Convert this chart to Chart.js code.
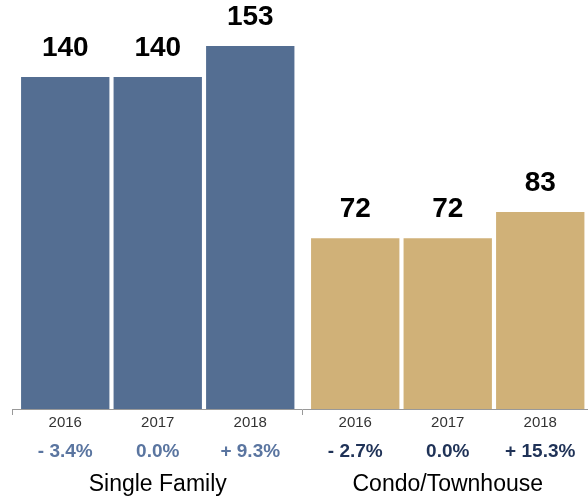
<!DOCTYPE html>
<html>
<head>
<meta charset="utf-8">
<script src="https://cdn.jsdelivr.net/npm/chart.js@4"></script>
<style>
  html, body { margin: 0; padding: 0; background: #fff; overflow: hidden; }
  #wrap { width: 600px; height: 501px; }
</style>
</head>
<body>
<div id="wrap"><canvas id="chart" width="600" height="501"></canvas></div>
<script>
const groups = ['Single Family', 'Condo/Townhouse'];
const years = ['2016', '2017', '2018'];
const singleFamily = [140, 140, 153];
const condo = [72, 72, 83];
const sfChange = ['- 3.4%', '0.0%', '+ 9.3%'];
const condoChange = ['- 2.7%', '0.0%', '+ 15.3%'];

const BAR_COLORS = ['#546e92', '#d0b178'];
const CHANGE_COLORS = ['#5a75a0', '#1f3257'];
const FONT = 'Helvetica, Arial, "Liberation Sans", sans-serif';

// value on top, year + change under each bar
const barLabels = {
  id: 'barLabels',
  afterDatasetsDraw(chart) {
    const { ctx, chartArea } = chart;
    const changes = [sfChange, condoChange];
    ctx.save();
    ctx.textAlign = 'center';
    ctx.textBaseline = 'middle';
    chart.data.datasets.forEach((ds, di) => {
      chart.getDatasetMeta(di).data.forEach((bar, gi) => {
        ctx.fillStyle = '#000';
        ctx.font = 'bold 28px ' + FONT;
        ctx.fillText(String(ds.data[gi]), bar.x, bar.y - 29);

        ctx.fillStyle = '#333';
        ctx.font = '15px ' + FONT;
        ctx.fillText(years[di], bar.x, chartArea.bottom + 14);

        ctx.fillStyle = CHANGE_COLORS[gi];
        ctx.font = 'bold 19px ' + FONT;
        ctx.fillText(changes[gi][di], bar.x, chartArea.bottom + 42.5);
      });
    });
    ctx.restore();
  }
};

new Chart(document.getElementById('chart'), {
  type: 'bar',
  data: {
    labels: groups,
    datasets: years.map((y, i) => ({
      label: y,
      data: [singleFamily[i], condo[i]],
      backgroundColor: BAR_COLORS,
      borderWidth: 0,
    })),
  },
  options: {
    responsive: false,
    animation: false,
    devicePixelRatio: 1,
    categoryPercentage: 0.957,
    barPercentage: 0.955,
    layout: { padding: { top: 1, left: 12.75, right: 4, bottom: 2 } },
    plugins: { legend: { display: false }, tooltip: { enabled: false } },
    scales: {
      y: { display: false, min: 0, max: 172 },
      x: {
        afterFit(scale) { scale.height = 90; },
        grid: { drawOnChartArea: false, color: '#999', tickLength: 6, offset: true },
        border: { color: '#999' },
        ticks: { color: '#000', font: { family: FONT, size: 23 }, padding: 56 },
      },
    },
  },
  plugins: [barLabels],
});
</script>
</body>
</html>
